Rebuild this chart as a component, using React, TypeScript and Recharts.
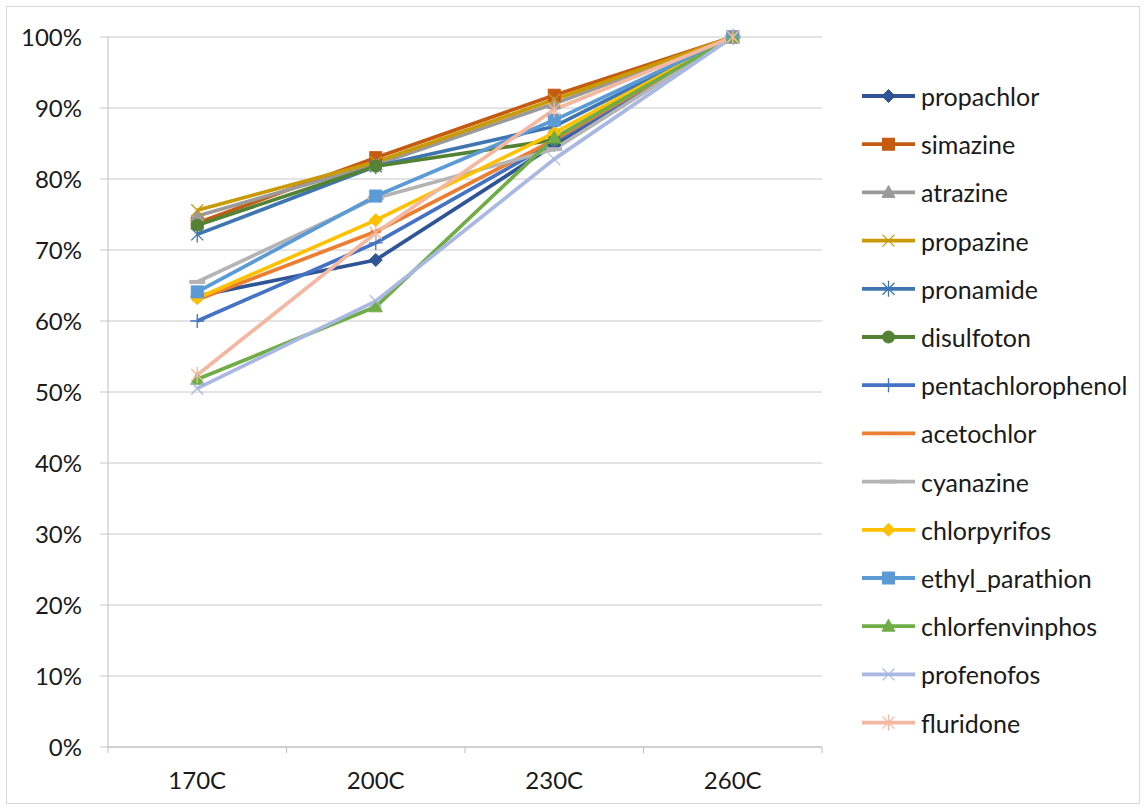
import React from "react";
import { LineChart, Line, XAxis, YAxis, CartesianGrid } from "recharts";

// Temperature steps on the x axis
const categories = ["170C", "200C", "230C", "260C"];

// Relative response (fraction of the 260C value) per compound
const propachlor = [0.635, 0.686, 0.848, 1];
const simazine = [0.738, 0.83, 0.918, 1];
const atrazine = [0.748, 0.82, 0.906, 1];
const propazine = [0.756, 0.824, 0.912, 1];
const pronamide = [0.722, 0.818, 0.874, 1];
const disulfoton = [0.735, 0.818, 0.855, 1];
const pentachlorophenol = [0.6, 0.71, 0.852, 1];
const acetochlor = [0.63, 0.726, 0.855, 1];
const cyanazine = [0.655, 0.773, 0.842, 1];
const chlorpyrifos = [0.632, 0.742, 0.865, 1];
const ethyl_parathion = [0.641, 0.776, 0.883, 1];
const chlorfenvinphos = [0.518, 0.62, 0.858, 1];
const profenofos = [0.505, 0.628, 0.828, 1];
const fluridone = [0.524, 0.724, 0.898, 1];

const yTicks = [0, 0.1, 0.2, 0.3, 0.4, 0.5, 0.6, 0.7, 0.8, 0.9, 1];

type Shape =
  | "diamond"
  | "square"
  | "triangle"
  | "x"
  | "star"
  | "circle"
  | "plus"
  | "dash"
  | "longdash";

const series: { name: string; values: number[]; color: string; shape: Shape }[] = [
  { name: "propachlor", values: propachlor, color: "#2F5597", shape: "diamond" },
  { name: "simazine", values: simazine, color: "#C55A11", shape: "square" },
  { name: "atrazine", values: atrazine, color: "#9A9A9A", shape: "triangle" },
  { name: "propazine", values: propazine, color: "#C99A06", shape: "x" },
  { name: "pronamide", values: pronamide, color: "#3F76B2", shape: "star" },
  { name: "disulfoton", values: disulfoton, color: "#548235", shape: "circle" },
  { name: "pentachlorophenol", values: pentachlorophenol, color: "#4472C4", shape: "plus" },
  { name: "acetochlor", values: acetochlor, color: "#ED7D31", shape: "dash" },
  { name: "cyanazine", values: cyanazine, color: "#B4B4B4", shape: "longdash" },
  { name: "chlorpyrifos", values: chlorpyrifos, color: "#FFC000", shape: "diamond" },
  { name: "ethyl_parathion", values: ethyl_parathion, color: "#5B9BD5", shape: "square" },
  { name: "chlorfenvinphos", values: chlorfenvinphos, color: "#70AD47", shape: "triangle" },
  { name: "profenofos", values: profenofos, color: "#A9B8E2", shape: "x" },
  { name: "fluridone", values: fluridone, color: "#F4B7A0", shape: "star" },
];

const data = categories.map((cat, i) => {
  const row: Record<string, number | string> = { cat, idx: i };
  series.forEach((s) => {
    row[s.name] = s.values[i];
  });
  return row;
});

const FONT = "Lato, 'Noto Sans', sans-serif";
const W = 1146;
const H = 810;
const MARGIN = { top: 37, right: 324, bottom: 23, left: 8 };
const Y_AXIS_W = 100;
const PLOT_W = W - MARGIN.left - MARGIN.right - Y_AXIS_W;
const HALF_BAND = PLOT_W / categories.length / 2;

function Marker({ shape, cx, cy, color }: { shape: Shape; cx: number; cy: number; color: string }) {
  if (cx == null || cy == null) return null;
  switch (shape) {
    case "diamond":
      return (
        <path
          d={`M${cx},${cy - 6.5} L${cx + 6.5},${cy} L${cx},${cy + 6.5} L${cx - 6.5},${cy} Z`}
          fill={color}
          stroke={color}
          strokeWidth={1}
        />
      );
    case "square":
      return <rect x={cx - 6} y={cy - 6} width={12} height={12} fill={color} stroke={color} strokeWidth={1} />;
    case "triangle":
      return (
        <path
          d={`M${cx},${cy - 7} L${cx + 6.5},${cy + 5} L${cx - 6.5},${cy + 5} Z`}
          fill={color}
          stroke={color}
          strokeWidth={1}
        />
      );
    case "circle":
      return <circle cx={cx} cy={cy} r={6} fill={color} stroke={color} strokeWidth={1} />;
    case "x":
      return (
        <path
          d={`M${cx - 6},${cy - 6} L${cx + 6},${cy + 6} M${cx + 6},${cy - 6} L${cx - 6},${cy + 6}`}
          stroke={color}
          strokeWidth={1.3}
          fill="none"
        />
      );
    case "star":
      return (
        <path
          d={`M${cx - 6},${cy - 6} L${cx + 6},${cy + 6} M${cx + 6},${cy - 6} L${cx - 6},${cy + 6} M${cx},${cy - 8} L${cx},${cy + 8}`}
          stroke={color}
          strokeWidth={1.3}
          fill="none"
        />
      );
    case "plus":
      return (
        <path
          d={`M${cx},${cy - 7} L${cx},${cy + 7} M${cx - 7},${cy} L${cx + 7},${cy}`}
          stroke={color}
          strokeWidth={1.3}
          fill="none"
        />
      );
    case "dash":
      return <rect x={cx - 5} y={cy - 1.5} width={10} height={3} fill={color} />;
    case "longdash":
      return <rect x={cx - 8} y={cy - 2} width={16} height={4} fill={color} />;
    default:
      return null;
  }
}

function XTick(props: any) {
  const { x, y, payload, index } = props;
  const last = index === categories.length - 1;
  return (
    <g>
      <line x1={x - HALF_BAND} y1={y} x2={x - HALF_BAND} y2={y + 6} stroke="#BFBFBF" />
      {last && <line x1={x + HALF_BAND} y1={y} x2={x + HALF_BAND} y2={y + 6} stroke="#BFBFBF" />}
      <text x={x} y={y + 42} textAnchor="middle" fontFamily={FONT} fontSize={24} fill="#1a1a1a">
        {categories[payload.value]}
      </text>
    </g>
  );
}

function LegendPanel() {
  const top = 96;
  const step = 48.2;
  return (
    <svg
      width={W}
      height={H}
      style={{ position: "absolute", left: 0, top: 0, pointerEvents: "none" }}
    >
      {series.map((s, i) => {
        const cy = top + i * step;
        return (
          <g key={s.name}>
            <line x1={862} y1={cy} x2={915} y2={cy} stroke={s.color} strokeWidth={3.8} />
            <Marker shape={s.shape} cx={888.5} cy={cy} color={s.color} />
            <text
              x={921}
              y={cy}
              dominantBaseline="central"
              fontFamily={FONT}
              fontSize={25}
              fill="#1a1a1a"
            >
              {s.name}
            </text>
          </g>
        );
      })}
    </svg>
  );
}

export default function App() {
  return (
    <div style={{ position: "absolute", left: 0, top: 0, width: W, height: H, background: "#fff" }}>
      <LineChart width={W} height={H} data={data} margin={MARGIN}>
        <CartesianGrid vertical={false} stroke="#C8C8C8" />
        <XAxis
          dataKey="idx"
          type="number"
          domain={[-0.5, categories.length - 0.5]}
          ticks={[0, 1, 2, 3]}
          tick={<XTick />}
          tickLine={false}
          tickSize={0}
          tickMargin={0}
          axisLine={{ stroke: "#BFBFBF" }}
          height={40}
          interval={0}
        />
        <YAxis
          type="number"
          domain={[0, 1]}
          ticks={yTicks}
          width={Y_AXIS_W}
          tickFormatter={(v: number) => `${Math.round(v * 100)}%`}
          tick={{ fontFamily: FONT, fontSize: 24, fill: "#1a1a1a" }}
          tickLine={{ stroke: "#C8C8C8" }}
          tickSize={8}
          tickMargin={18}
          axisLine={{ stroke: "#BFBFBF" }}
          interval={0}
        />
        {series.map((s) => (
          <Line
            key={s.name}
            type="linear"
            dataKey={s.name}
            stroke={s.color}
            strokeWidth={3.7}
            strokeLinejoin="round"
            isAnimationActive={false}
            activeDot={false}
            dot={(p: any) => (
              <Marker key={`${s.name}-${p.index}`} shape={s.shape} cx={p.cx} cy={p.cy} color={s.color} />
            )}
          />
        ))}
      </LineChart>
      <LegendPanel />
      <svg width={W} height={H} style={{ position: "absolute", left: 0, top: 0, pointerEvents: "none" }}>
        <rect x={6.5} y={6.5} width={1133} height={797} fill="none" stroke="#D9D9D9" />
      </svg>
    </div>
  );
}
